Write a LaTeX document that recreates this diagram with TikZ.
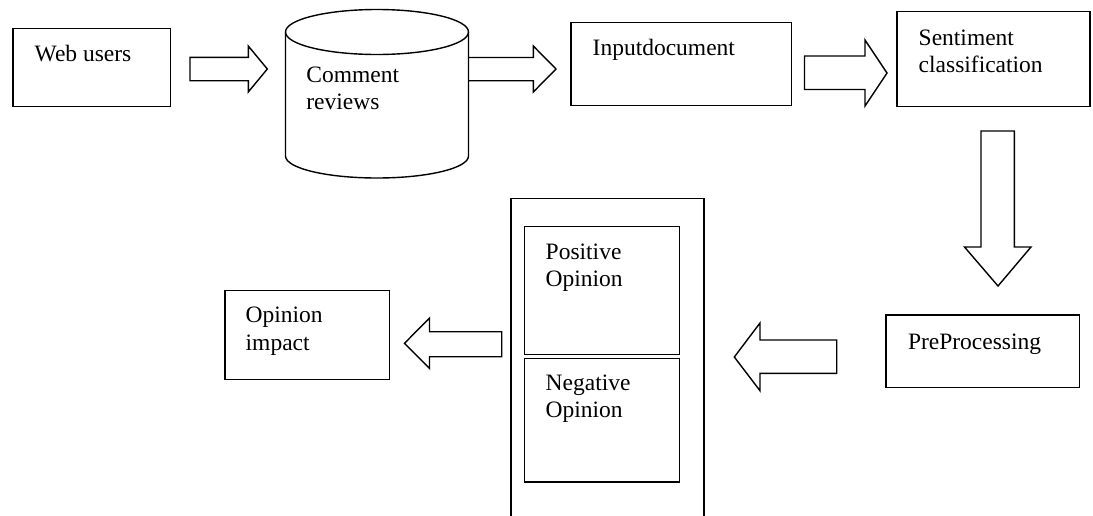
\documentclass[tikz,border=0pt]{standalone}
\usepackage{fontspec}
\setmainfont{Liberation Serif}
\newcommand\twolines[2]{\vtop{\hbox{#1}\hbox{#2}}}
\begin{document}
\begin{tikzpicture}[x=1pt,y=-1pt, line width=1.4pt, line join=miter,
  box/.style={draw, rectangle, inner sep=0pt, outer sep=0pt, anchor=north west},
  lbl/.style={anchor=base west, inner sep=0pt, font=\fontsize{23.5}{27.5}\selectfont},
  barrow/.style={draw, line width=1.4pt}]
\useasboundingbox (0,0) rectangle (1093,515);

% boxes
\node[box, minimum width=157.8pt, minimum height=78.4pt] (web) at (12.9,28.3) {};
\node[box, minimum width=220.5pt, minimum height=83pt] (input) at (571,22.3) {};
\node[box, minimum width=193pt, minimum height=95pt] (sent) at (897,11.7) {};
\node[box, minimum width=193.3pt, minimum height=72.7pt] (pre) at (886,315) {};
\node[box, minimum width=164.5pt, minimum height=88.6pt] (opin) at (224.8,290.7) {};
\node[box, minimum width=193pt, minimum height=330pt] (outer) at (511,198.3) {};
\node[box, minimum width=155pt, minimum height=127.7pt] (pos) at (524.5,226.5) {};
\node[box, minimum width=155pt, minimum height=123.4pt] (neg) at (524.5,358.6) {};

% cylinder
\node[inner sep=0pt, outer sep=0pt, anchor=north west, minimum width=183pt, minimum height=169pt] (cyl) at (285.5,9.5) {};
\draw (285.5,32) -- (285.5,156) arc[start angle=180, end angle=0, x radius=91.5, y radius=22] -- (468.5,32);
\draw (377,32) ellipse [x radius=91.5, y radius=22.5];

% texts
\node[lbl] (webT) at (34,61.7) {Web users};
\node[lbl] (cylT) at (305.7,82.3) {\twolines{Comment}{reviews}};
\node[lbl] (inputT) at (592,55) {Inputdocument};
\node[lbl] (sentT) at (918,45) {\twolines{Sentiment}{classification}};
\node[lbl] (preT) at (907.3,349) {PreProcessing};
\node[lbl] (opinT) at (245,322.7) {\twolines{Opinion}{impact}};
\node[lbl] (posT) at (545,259) {\twolines{Positive}{Opinion}};
\node[lbl] (negT) at (545,390) {\twolines{Negative}{Opinion}};

% block arrows
\draw[barrow] (190,57.3) -- (248.3,57.3) -- (248.3,46) -- (267.3,69) -- (248.3,92) -- (248.3,80.7) -- (190,80.7) -- cycle;
\draw[barrow] (468.5,57.5) -- (533.3,57.5) -- (533.3,46) -- (556,69) -- (533.3,92) -- (533.3,80.7) -- (468.5,80.7);
\draw[barrow] (804.5,56) -- (865,56) -- (865,40) -- (887,73) -- (865,106) -- (865,89.5) -- (804.5,89.5) -- cycle;
\draw[barrow] (981,131) -- (1014.3,131) -- (1014.3,247) -- (1031,247) -- (998,286) -- (964.5,247) -- (981,247) -- cycle;
\draw[barrow] (836.7,340) -- (760,340) -- (760,323) -- (734.3,357) -- (760,390.7) -- (760,373.3) -- (836.7,373.3) -- cycle;
\draw[barrow] (501.7,331.7) -- (429.5,331.7) -- (429.5,318) -- (404.5,343.3) -- (429.5,368.5) -- (429.5,356.7) -- (501.7,356.7) -- cycle;
\end{tikzpicture}
\end{document}
